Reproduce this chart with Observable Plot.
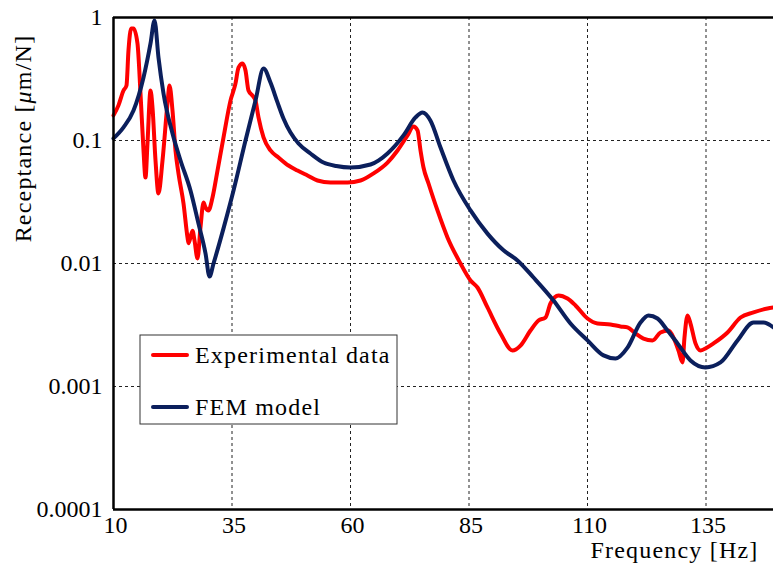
<!DOCTYPE html>
<html><head><meta charset="utf-8">
<script src="https://cdn.jsdelivr.net/npm/d3@7"></script>
<script src="https://cdn.jsdelivr.net/npm/@observablehq/plot@0.6"></script>
<style>body{margin:0;background:#fff}</style>
</head><body><div id="chart"></div>
<script>
// Experimental data (frequency Hz, receptance µm/N)
const expFreq = [10.0,11.05,12.11,12.74,13.16,13.73,14.22,15.06,15.70,16.33,16.75,17.17,17.81,18.23,18.86,19.49,20.34,21.39,21.81,22.45,23.08,23.71,24.77,25.61,25.82,26.67,27.09,27.72,28.35,28.99,29.41,30.04,30.89,31.94,33.21,34.68,35.74,36.37,37.22,37.85,38.48,39.32,39.96,40.59,41.65,43.12,44.81,46.92,48.82,50.93,53.04,55.78,59.37,62.11,64.85,67.81,69.92,72.03,73.29,74.14,74.77,75.40,76.46,78.35,80.46,83.21,85.32,86.79,88.90,91.65,94.18,95.86,97.97,99.66,101.14,102.19,103.88,105.78,107.47,110.0,112.11,114.85,116.96,118.44,120.13,121.81,123.71,125.40,127.09,128.14,129.20,130.04,130.46,131.10,131.73,132.78,133.84,134.89,136.58,139.54,142.28,145.02,147.97,149.24];
const expRec = [0.160,0.193,0.255,0.280,0.539,0.814,0.814,0.615,0.241,0.083,0.050,0.0946,0.255,0.185,0.0688,0.0371,0.0688,0.200,0.280,0.175,0.083,0.054,0.0308,0.0163,0.0146,0.0185,0.0154,0.0110,0.0196,0.0313,0.0285,0.0270,0.0344,0.0570,0.106,0.211,0.291,0.392,0.423,0.371,0.255,0.232,0.211,0.154,0.106,0.083,0.0728,0.0626,0.0570,0.0519,0.0473,0.0456,0.0456,0.0473,0.054,0.0662,0.083,0.110,0.130,0.121,0.083,0.0603,0.0447,0.0270,0.0163,0.0100,0.00728,0.00638,0.00439,0.00270,0.00196,0.00215,0.00285,0.00344,0.00364,0.00473,0.00550,0.00519,0.00456,0.00357,0.00325,0.00319,0.00308,0.00302,0.00270,0.00245,0.00237,0.00275,0.00285,0.00250,0.00196,0.00157,0.00250,0.00378,0.00325,0.00224,0.00196,0.00204,0.00224,0.00275,0.00364,0.00400,0.00431,0.00439];
// FEM model
const femFreq = [10.0,12.11,14.22,16.33,17.81,18.65,19.49,20.55,22.45,24.14,26.24,27.93,29.41,30.25,31.10,33.21,35.32,37.85,39.96,41.65,43.12,44.60,45.86,47.34,49.03,51.56,54.30,57.0,60.0,64.22,67.81,71.18,73.71,75.19,76.88,78.99,81.73,85.32,88.90,92.28,95.23,98.61,102.83,106.41,110.0,113.38,115.91,118.44,121.18,122.87,124.77,126.88,128.99,131.73,134.89,138.06,141.65,145.02,147.13,149.24];
const femRec = [0.104,0.128,0.175,0.325,0.615,0.946,0.473,0.241,0.114,0.0688,0.0392,0.0211,0.0121,0.00784,0.0100,0.0193,0.0392,0.100,0.211,0.385,0.296,0.204,0.151,0.116,0.0946,0.0784,0.0662,0.0620,0.0603,0.0638,0.0784,0.110,0.154,0.169,0.145,0.0877,0.0473,0.0270,0.0175,0.0128,0.0106,0.00769,0.00500,0.00325,0.00237,0.00179,0.00169,0.00207,0.00331,0.00378,0.00357,0.00285,0.00224,0.00163,0.00143,0.00157,0.00237,0.00331,0.00331,0.00302];
const xTicks = [10,35,60,85,110,135];
const yTicks = [1,0.1,0.01,0.001,0.0001];
const seriesNames = ["Experimental data","FEM model"];
const seriesColors = ["#ff0000","#0b1f5c"];

const expData = expFreq.map((f,i)=>({f, r: expRec[i]}));
const femData = femFreq.map((f,i)=>({f, r: femRec[i]}));
const font = "'Liberation Serif', 'Times New Roman', serif";

const chart = Plot.plot({
  width: 773, height: 568,
  marginTop: 17, marginBottom: 59, marginLeft: 113, marginRight: 0,
  style: {fontFamily: font, fontSize: "24px", background: "#fff", color: "#000"},
  x: {domain: [10, 149.24]},
  y: {type: "log", domain: [0.0001, 1]},
  marks: [
    Plot.ruleX(xTicks.slice(1), {stroke: "#222", strokeWidth: 1, strokeDasharray: "3,3"}),
    Plot.ruleY(yTicks.slice(1, 4), {stroke: "#222", strokeWidth: 1, strokeDasharray: "3,3"}),
    Plot.line(expData, {x: "f", y: "r", stroke: seriesColors[0], strokeWidth: 4, curve: "monotone-x"}),
    Plot.line(femData, {x: "f", y: "r", stroke: seriesColors[1], strokeWidth: 4, curve: "monotone-x"}),
    Plot.ruleX([10], {stroke: "#000", strokeWidth: 2.5}),
    Plot.ruleY([1, 0.0001], {stroke: "#000", strokeWidth: 2.5}),
    Plot.axisX({ticks: xTicks, tickSize: 0, tickPadding: 6, dx: 2, label: null, tickFormat: d => String(d)}),
    Plot.axisY({ticks: yTicks, tickSize: 0, tickPadding: 11, label: null, tickFormat: d => String(d)}),
    Plot.text(["Frequency [Hz]"], {text: d => d, frameAnchor: "bottom-right", dx: -15, dy: 41, textAnchor: "end", lineAnchor: "middle", fontSize: 24}),
    Plot.text(["Receptance [μm/N]"], {text: d => d, frameAnchor: "top-left", dx: -90, dy: 121, rotate: -90, textAnchor: "middle", lineAnchor: "middle", fontSize: 24})
  ]
});

const svg = d3.select(chart);
svg.selectAll("text").filter(function(){ return /[A-Za-z]{3}/.test(this.textContent); })
  .style("letter-spacing", "1.2px");
svg.selectAll("text").filter(function(){ return this.textContent.includes("μ"); })
  .each(function(){
    const t = d3.select(this);
    t.text(null);
    t.append("tspan").text("Receptance [");
    t.append("tspan").attr("font-style", "italic").text("μ");
    t.append("tspan").text("m/N]");
  });

// legend
const lg = svg.append("g").attr("text-anchor", "start");
lg.append("rect").attr("x", 140).attr("y", 335).attr("width", 257).attr("height", 89)
  .attr("fill", "#fff").attr("stroke", "#333").attr("stroke-width", 1);
seriesNames.forEach((name, i) => {
  const y = 355 + i * 52;
  lg.append("line").attr("x1", 153).attr("x2", 187).attr("y1", y).attr("y2", y)
    .attr("stroke", seriesColors[i]).attr("stroke-width", 4).attr("stroke-linecap", "round");
  lg.append("text").attr("x", 195).attr("y", y).attr("dy", "0.35em")
    .attr("text-anchor", "start")
    .attr("font-family", font).attr("font-size", 24).style("letter-spacing", "1.2px")
    .attr("fill", "#000").text(name);
});

document.getElementById("chart").appendChild(chart);
</script>
</body></html>
